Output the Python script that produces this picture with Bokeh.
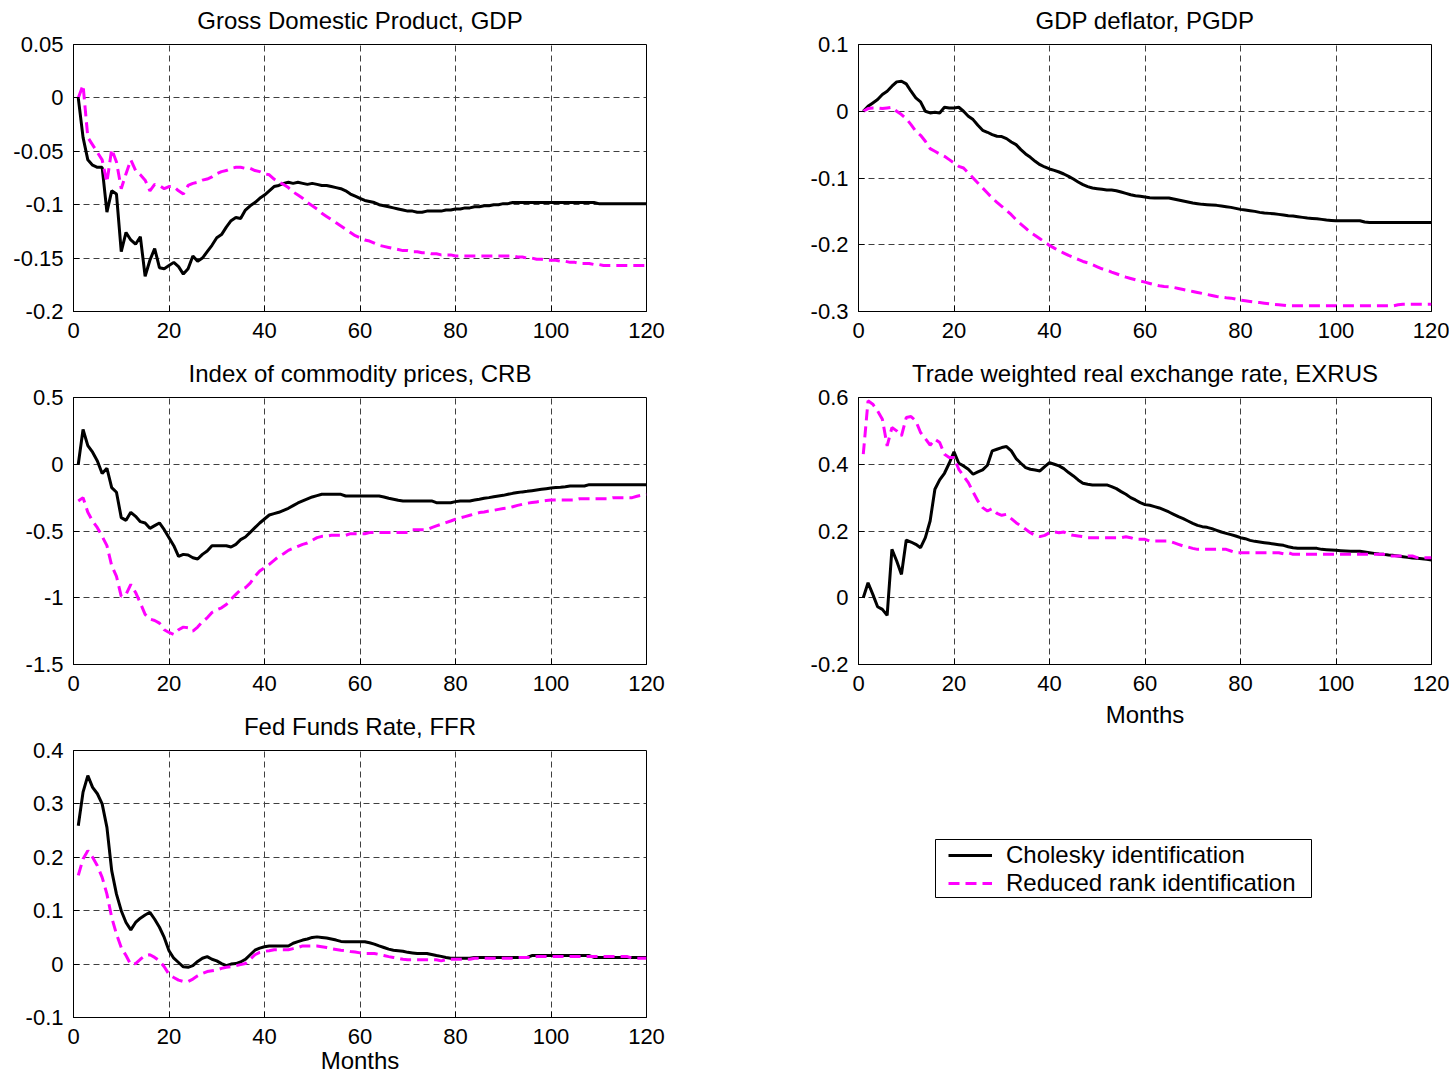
from bokeh.plotting import figure
from bokeh.models import Range1d, FixedTicker, Legend, LegendItem, BoxAnnotation, Title
from bokeh.layouts import row, column
from bokeh.embed import file_html
from bokeh.resources import INLINE

FONT = "Liberation Sans"
BLACK = "#000000"
MAGENTA = "#ff00ff"

# ---------------- data ----------------
months = list(range(1, 121))
x_ticks = [0, 20, 40, 60, 80, 100, 120]
x_tick_labels = ["0", "20", "40", "60", "80", "100", "120"]

titles = ["Gross Domestic Product, GDP", "GDP deflator, PGDP",
          "Index of commodity prices, CRB", "Trade weighted real exchange rate, EXRUS",
          "Fed Funds Rate, FFR"]
series_names = ["Cholesky identification", "Reduced rank identification"]
x_label = "Months"

gdp_ticks = [-0.2, -0.15, -0.1, -0.05, 0, 0.05]
gdp_tick_labels = ["-0.2", "-0.15", "-0.1", "-0.05", "0", "0.05"]
pgdp_ticks = [-0.3, -0.2, -0.1, 0, 0.1]
pgdp_tick_labels = ["-0.3", "-0.2", "-0.1", "0", "0.1"]
crb_ticks = [-1.5, -1, -0.5, 0, 0.5]
crb_tick_labels = ["-1.5", "-1", "-0.5", "0", "0.5"]
exrus_ticks = [-0.2, 0, 0.2, 0.4, 0.6]
exrus_tick_labels = ["-0.2", "0", "0.2", "0.4", "0.6"]
ffr_ticks = [-0.1, 0, 0.1, 0.2, 0.3, 0.4]
ffr_tick_labels = ["-0.1", "0", "0.1", "0.2", "0.3", "0.4"]

gdp_chol = [0.000, -0.037, -0.058, -0.063, -0.065, -0.065, -0.107, -0.087, -0.090, -0.144,
            -0.126, -0.133, -0.137, -0.130, -0.167, -0.152, -0.141, -0.159, -0.160, -0.157,
            -0.154, -0.158, -0.165, -0.160, -0.148, -0.153, -0.150, -0.144, -0.138, -0.131,
            -0.128, -0.121, -0.115, -0.112, -0.113, -0.105, -0.101, -0.098, -0.094, -0.091,
            -0.087, -0.083, -0.082, -0.080, -0.079, -0.080, -0.079, -0.080, -0.081, -0.080,
            -0.081, -0.082, -0.082, -0.083, -0.084, -0.085, -0.087, -0.090, -0.092, -0.094,
            -0.096, -0.097, -0.098, -0.100, -0.101, -0.102, -0.103, -0.104, -0.105, -0.106,
            -0.106, -0.107, -0.107, -0.106, -0.106, -0.106, -0.106, -0.105, -0.105, -0.104,
            -0.104, -0.103, -0.103, -0.102, -0.102, -0.101, -0.101, -0.100, -0.100, -0.099,
            -0.099, -0.098, -0.098, -0.098, -0.098, -0.098, -0.098, -0.098, -0.098, -0.098,
            -0.098, -0.098, -0.098, -0.098, -0.098, -0.098, -0.098, -0.098, -0.098, -0.099,
            -0.099, -0.099, -0.099, -0.099, -0.099, -0.099, -0.099, -0.099, -0.099, -0.099]
gdp_rr = [0.000, 0.012, -0.037, -0.044, -0.051, -0.058, -0.079, -0.048, -0.060, -0.085,
          -0.071, -0.058, -0.068, -0.072, -0.077, -0.087, -0.081, -0.082, -0.085, -0.083,
          -0.083, -0.087, -0.090, -0.082, -0.080, -0.079, -0.077, -0.076, -0.074, -0.071,
          -0.069, -0.068, -0.066, -0.065, -0.065, -0.066, -0.066, -0.068, -0.069, -0.071,
          -0.072, -0.076, -0.079, -0.081, -0.084, -0.088, -0.091, -0.094, -0.098, -0.101,
          -0.104, -0.108, -0.111, -0.114, -0.117, -0.120, -0.123, -0.126, -0.129, -0.131,
          -0.133, -0.134, -0.136, -0.138, -0.139, -0.140, -0.141, -0.142, -0.143, -0.143,
          -0.144, -0.144, -0.145, -0.145, -0.146, -0.146, -0.147, -0.147, -0.147, -0.148,
          -0.148, -0.148, -0.148, -0.148, -0.148, -0.148, -0.148, -0.148, -0.148, -0.148,
          -0.148, -0.148, -0.149, -0.149, -0.150, -0.150, -0.151, -0.151, -0.152, -0.152,
          -0.152, -0.153, -0.153, -0.154, -0.154, -0.155, -0.155, -0.155, -0.156, -0.156,
          -0.157, -0.157, -0.157, -0.157, -0.157, -0.157, -0.157, -0.157, -0.157, -0.157]

pgdp_chol = [0.000, 0.0075, 0.0125, 0.0175, 0.025, 0.030, 0.0375, 0.044, 0.045, 0.041,
             0.030, 0.020, 0.014, 0.000, -0.0025, -0.0015, -0.0025, 0.006, 0.005, 0.005,
             0.006, 0.000, -0.0075, -0.0125, -0.021, -0.0285, -0.0315, -0.035, -0.0375, -0.038,
             -0.041, -0.046, -0.050, -0.0575, -0.064, -0.069, -0.075, -0.080, -0.0835, -0.0865,
             -0.0885, -0.091, -0.094, -0.0975, -0.1015, -0.106, -0.110, -0.113, -0.115, -0.116,
             -0.117, -0.118, -0.118, -0.119, -0.121, -0.123, -0.125, -0.1265, -0.1275, -0.1285,
             -0.1295, -0.130, -0.130, -0.130, -0.130, -0.1315, -0.133, -0.1345, -0.136, -0.1375,
             -0.1385, -0.1395, -0.140, -0.1405, -0.141, -0.142, -0.143, -0.144, -0.1455, -0.147,
             -0.148, -0.149, -0.150, -0.1515, -0.1525, -0.153, -0.1535, -0.1545, -0.1555, -0.1565,
             -0.157, -0.158, -0.159, -0.160, -0.1605, -0.161, -0.162, -0.163, -0.1635, -0.164,
             -0.164, -0.164, -0.164, -0.164, -0.164, -0.166, -0.1665, -0.1665, -0.1665, -0.1665,
             -0.1665, -0.1665, -0.1665, -0.1665, -0.1665, -0.1665, -0.1665, -0.1665, -0.1665, -0.1665]
pgdp_rr = [0.000, 0.004, 0.005, 0.005, 0.004, 0.005, 0.006, 0.000, -0.005, -0.011,
           -0.020, -0.030, -0.036, -0.045, -0.056, -0.060, -0.064, -0.0675, -0.0725, -0.0775,
           -0.0825, -0.085, -0.0925, -0.100, -0.1075, -0.115, -0.1225, -0.130, -0.1365, -0.1425,
           -0.1485, -0.155, -0.1625, -0.169, -0.175, -0.1815, -0.186, -0.191, -0.196, -0.201,
           -0.205, -0.209, -0.2125, -0.216, -0.219, -0.222, -0.225, -0.227, -0.230, -0.233,
           -0.236, -0.238, -0.241, -0.2435, -0.246, -0.2485, -0.2505, -0.2525, -0.2545, -0.256,
           -0.258, -0.260, -0.2615, -0.2625, -0.263, -0.264, -0.2655, -0.267, -0.2685, -0.270,
           -0.2715, -0.273, -0.2745, -0.276, -0.2775, -0.2785, -0.2795, -0.280, -0.2815, -0.283,
           -0.284, -0.285, -0.286, -0.2865, -0.2875, -0.2885, -0.2895, -0.290, -0.2905, -0.2915,
           -0.2915, -0.2915, -0.2915, -0.2915, -0.2915, -0.2915, -0.2915, -0.2915, -0.2915, -0.2915,
           -0.2915, -0.2915, -0.2915, -0.2915, -0.2915, -0.2915, -0.2915, -0.2915, -0.2915, -0.2915,
           -0.2915, -0.2915, -0.290, -0.289, -0.289, -0.289, -0.289, -0.289, -0.289, -0.289]

crb_chol = [0.000, 0.260, 0.140, 0.090, 0.025, -0.070, -0.030, -0.175, -0.210, -0.400,
            -0.420, -0.360, -0.390, -0.430, -0.440, -0.480, -0.460, -0.440, -0.490, -0.550,
            -0.610, -0.690, -0.675, -0.680, -0.700, -0.710, -0.675, -0.650, -0.610, -0.610,
            -0.610, -0.610, -0.620, -0.600, -0.565, -0.545, -0.510, -0.475, -0.440, -0.410,
            -0.380, -0.370, -0.360, -0.345, -0.330, -0.310, -0.290, -0.275, -0.260, -0.245,
            -0.235, -0.225, -0.225, -0.225, -0.225, -0.225, -0.238, -0.238, -0.238, -0.238,
            -0.238, -0.238, -0.238, -0.238, -0.245, -0.255, -0.262, -0.270, -0.275, -0.275,
            -0.275, -0.275, -0.275, -0.275, -0.275, -0.288, -0.288, -0.288, -0.288, -0.280,
            -0.275, -0.275, -0.275, -0.268, -0.262, -0.255, -0.250, -0.243, -0.238, -0.233,
            -0.225, -0.218, -0.212, -0.207, -0.203, -0.198, -0.193, -0.188, -0.183, -0.178,
            -0.175, -0.172, -0.168, -0.163, -0.163, -0.163, -0.163, -0.153, -0.153, -0.153,
            -0.153, -0.153, -0.153, -0.153, -0.153, -0.153, -0.153, -0.153, -0.153, -0.153]
crb_rr = [-0.275, -0.250, -0.360, -0.425, -0.475, -0.540, -0.610, -0.760, -0.840, -0.990,
          -0.975, -0.900, -0.960, -1.040, -1.125, -1.160, -1.170, -1.190, -1.240, -1.260,
          -1.275, -1.240, -1.220, -1.225, -1.250, -1.220, -1.180, -1.150, -1.110, -1.090,
          -1.075, -1.050, -1.010, -0.975, -0.940, -0.925, -0.890, -0.840, -0.800, -0.775,
          -0.750, -0.720, -0.690, -0.670, -0.645, -0.630, -0.615, -0.600, -0.590, -0.570,
          -0.550, -0.540, -0.538, -0.532, -0.532, -0.532, -0.532, -0.520, -0.520, -0.520,
          -0.520, -0.512, -0.512, -0.512, -0.512, -0.512, -0.512, -0.512, -0.512, -0.512,
          -0.490, -0.490, -0.490, -0.490, -0.475, -0.462, -0.450, -0.437, -0.425, -0.412,
          -0.402, -0.392, -0.382, -0.372, -0.362, -0.357, -0.350, -0.345, -0.338, -0.332,
          -0.328, -0.318, -0.308, -0.300, -0.292, -0.287, -0.282, -0.277, -0.272, -0.268,
          -0.268, -0.268, -0.268, -0.268, -0.268, -0.258, -0.258, -0.258, -0.258, -0.258,
          -0.258, -0.258, -0.250, -0.250, -0.250, -0.250, -0.250, -0.240, -0.232, -0.225]

exrus_chol = [0.000, 0.045, 0.010, -0.027, -0.035, -0.053, 0.145, 0.110, 0.070, 0.173,
              0.167, 0.160, 0.150, 0.180, 0.230, 0.325, 0.353, 0.373, 0.403, 0.437,
              0.403, 0.395, 0.385, 0.370, 0.377, 0.383, 0.397, 0.440, 0.445, 0.450,
              0.453, 0.440, 0.417, 0.403, 0.390, 0.385, 0.383, 0.380, 0.393, 0.405,
              0.400, 0.395, 0.387, 0.375, 0.365, 0.353, 0.343, 0.340, 0.338, 0.338,
              0.338, 0.338, 0.333, 0.327, 0.318, 0.310, 0.300, 0.293, 0.285, 0.279,
              0.277, 0.273, 0.269, 0.263, 0.257, 0.250, 0.243, 0.237, 0.230, 0.223,
              0.217, 0.213, 0.211, 0.207, 0.202, 0.197, 0.193, 0.189, 0.185, 0.180,
              0.177, 0.172, 0.169, 0.167, 0.165, 0.163, 0.161, 0.159, 0.157, 0.153,
              0.150, 0.148, 0.148, 0.148, 0.148, 0.148, 0.145, 0.144, 0.143, 0.142,
              0.141, 0.140, 0.139, 0.139, 0.139, 0.137, 0.135, 0.133, 0.131, 0.130,
              0.128, 0.127, 0.125, 0.123, 0.121, 0.119, 0.118, 0.117, 0.115, 0.113]
exrus_rr = [0.430, 0.590, 0.580, 0.560, 0.535, 0.455, 0.510, 0.500, 0.485, 0.540,
            0.543, 0.530, 0.495, 0.477, 0.457, 0.475, 0.465, 0.430, 0.420, 0.420,
            0.385, 0.365, 0.345, 0.317, 0.290, 0.270, 0.260, 0.267, 0.253, 0.247,
            0.250, 0.237, 0.225, 0.215, 0.205, 0.195, 0.187, 0.183, 0.187, 0.195,
            0.197, 0.195, 0.197, 0.190, 0.187, 0.185, 0.183, 0.180, 0.180, 0.180,
            0.180, 0.180, 0.180, 0.180, 0.180, 0.183, 0.180, 0.175, 0.175, 0.175,
            0.170, 0.170, 0.170, 0.170, 0.170, 0.165, 0.160, 0.155, 0.152, 0.148,
            0.145, 0.145, 0.145, 0.145, 0.145, 0.145, 0.145, 0.140, 0.135, 0.135,
            0.135, 0.135, 0.135, 0.135, 0.135, 0.135, 0.135, 0.135, 0.132, 0.135,
            0.130, 0.130, 0.130, 0.130, 0.130, 0.130, 0.130, 0.130, 0.130, 0.130,
            0.130, 0.130, 0.130, 0.130, 0.130, 0.130, 0.130, 0.130, 0.130, 0.130,
            0.125, 0.125, 0.125, 0.125, 0.125, 0.125, 0.120, 0.120, 0.120, 0.120]

ffr_chol = [0.259, 0.322, 0.353, 0.331, 0.319, 0.300, 0.256, 0.175, 0.131, 0.100,
            0.078, 0.064, 0.078, 0.086, 0.092, 0.097, 0.084, 0.069, 0.050, 0.025,
            0.011, 0.003, -0.005, -0.006, -0.003, 0.005, 0.011, 0.014, 0.009, 0.006,
            0.001, -0.003, 0.000, 0.001, 0.004, 0.009, 0.0175, 0.026, 0.030, 0.0325,
            0.034, 0.034, 0.034, 0.034, 0.034, 0.039, 0.042, 0.045, 0.047, 0.050,
            0.051, 0.050, 0.049, 0.047, 0.045, 0.0425, 0.042, 0.042, 0.042, 0.042,
            0.042, 0.040, 0.0375, 0.034, 0.031, 0.028, 0.026, 0.025, 0.024, 0.022,
            0.021, 0.020, 0.020, 0.020, 0.018, 0.016, 0.0145, 0.0125, 0.011, 0.011,
            0.011, 0.011, 0.011, 0.0125, 0.0125, 0.0125, 0.0125, 0.0125, 0.0125, 0.0125,
            0.0125, 0.0125, 0.0125, 0.0125, 0.0125, 0.016, 0.016, 0.016, 0.016, 0.016,
            0.016, 0.016, 0.016, 0.016, 0.016, 0.016, 0.016, 0.016, 0.0125, 0.0125,
            0.0125, 0.0125, 0.0125, 0.0125, 0.0125, 0.0125, 0.0125, 0.0125, 0.0125, 0.0125]
ffr_rr = [0.166, 0.197, 0.2125, 0.200, 0.184, 0.1625, 0.131, 0.0875, 0.056, 0.031,
          0.016, -0.001, 0.001, 0.009, 0.016, 0.0175, 0.0125, 0.006, -0.005, -0.019,
          -0.025, -0.030, -0.0325, -0.0325, -0.028, -0.022, -0.0175, -0.014, -0.0125, -0.011,
          -0.008, -0.006, -0.005, -0.003, -0.001, 0.001, 0.009, 0.0175, 0.022, 0.024,
          0.025, 0.027, 0.027, 0.027, 0.027, 0.029, 0.031, 0.034, 0.034, 0.034,
          0.034, 0.0325, 0.031, 0.029, 0.0275, 0.026, 0.025, 0.0235, 0.0225, 0.021,
          0.020, 0.020, 0.020, 0.018, 0.016, 0.014, 0.0125, 0.011, 0.009, 0.008,
          0.008, 0.008, 0.008, 0.008, 0.008, 0.008, 0.006, 0.008, 0.009, 0.009,
          0.009, 0.009, 0.009, 0.011, 0.011, 0.011, 0.011, 0.011, 0.011, 0.011,
          0.011, 0.011, 0.0125, 0.0125, 0.0125, 0.0125, 0.014, 0.014, 0.014, 0.014,
          0.014, 0.014, 0.014, 0.014, 0.014, 0.014, 0.014, 0.014, 0.014, 0.014,
          0.014, 0.014, 0.014, 0.014, 0.014, 0.014, 0.011, 0.011, 0.011, 0.011]

# ---------------- drawing ----------------
FRAME_W, FRAME_H = 573, 267


def panel(title, chol, rr, y_start, y_end, yt, ytl, left, top, bottom, right,
          with_xlabel=False, tick_standoff=11, xlabel_standoff=4):
    p = figure(frame_width=FRAME_W, frame_height=FRAME_H,
               x_range=Range1d(0, 120), y_range=Range1d(y_start, y_end),
               output_backend="svg", toolbar_location=None, title=None,
               min_border_left=left, min_border_right=right,
               min_border_top=top, min_border_bottom=bottom,
               background_fill_color="white", border_fill_color="white")
    # thin spacer between frame and title, then the title itself
    p.add_layout(Title(text=" ", text_font_size="1px", standoff=8), "above")
    p.add_layout(Title(text=title, align="center", standoff=0,
                       text_font=FONT, text_font_size="24px",
                       text_font_style="normal", text_color="black"), "above")

    p.xaxis.ticker = FixedTicker(ticks=x_ticks, minor_ticks=[])
    p.yaxis.ticker = FixedTicker(ticks=yt, minor_ticks=[])
    p.xaxis.major_label_overrides = dict(zip(x_ticks, x_tick_labels))
    p.yaxis.major_label_overrides = dict(zip(yt, ytl))
    for ax in (p.xaxis, p.yaxis):
        ax.major_tick_in = 6
        ax.major_tick_out = 0
        ax.major_tick_line_color = "black"
        ax.axis_line_color = "black"
        ax.axis_line_width = 1
        ax.major_label_text_font = FONT
        ax.major_label_text_font_size = "22px"
        ax.major_label_text_color = "black"
    p.xaxis.major_label_standoff = tick_standoff
    p.yaxis.major_label_standoff = 10
    if with_xlabel:
        p.xaxis.axis_label = x_label
        p.xaxis.axis_label_text_font = FONT
        p.xaxis.axis_label_text_font_size = "24px"
        p.xaxis.axis_label_text_font_style = "normal"
        p.xaxis.axis_label_text_color = "black"
        p.xaxis.axis_label_standoff = xlabel_standoff

    p.grid.grid_line_color = "#404040"
    p.grid.grid_line_dash = "6 4"
    p.grid.grid_line_width = 1
    p.outline_line_color = "black"
    p.outline_line_width = 1
    p.outline_line_alpha = 1

    p.line(months, chol, line_color=BLACK, line_width=3)
    p.line(months, rr, line_color=MAGENTA, line_width=3, line_dash="11 6")
    return p


f1 = panel(titles[0], gdp_chol, gdp_rr, -0.2, 0.05, gdp_ticks, gdp_tick_labels,
           73, 44, 38, 147)
f2 = panel(titles[1], pgdp_chol, pgdp_rr, -0.3, 0.1, pgdp_ticks, pgdp_tick_labels,
           65, 44, 38, 18)
f3 = panel(titles[2], crb_chol, crb_rr, -1.5, 0.5, crb_ticks, crb_tick_labels,
           73, 48, 38, 147)
f4 = panel(titles[3], exrus_chol, exrus_rr, -0.2, 0.6, exrus_ticks, exrus_tick_labels,
           65, 48, 80, 18, with_xlabel=True, xlabel_standoff=7)
f5 = panel(titles[4], ffr_chol, ffr_rr, -0.1, 0.4, ffr_ticks, ffr_tick_labels,
           73, 48, 60, 147, with_xlabel=True, tick_standoff=11, xlabel_standoff=0)

# legend holder (data units = pixels of its frame)
f6 = figure(frame_width=FRAME_W, frame_height=300, x_range=Range1d(0, FRAME_W), y_range=Range1d(0, 300),
            x_axis_location=None, y_axis_location=None, toolbar_location=None,
            output_backend="svg", min_border_left=65, min_border_right=18,
            min_border_top=0, min_border_bottom=0, outline_line_color=None,
            background_fill_color="white", border_fill_color="white")
f6.grid.visible = False
r1 = f6.line([-100, -90], [-100, -100], line_color=BLACK, line_width=3)
r2 = f6.line([-100, -90], [-100, -100], line_color=MAGENTA, line_width=3, line_dash="11 6")
f6.add_layout(BoxAnnotation(left=77, right=453, bottom=147, top=205,
                            fill_color="white", fill_alpha=1,
                            line_color="black", line_width=1, line_alpha=1))
legend = Legend(items=[LegendItem(label=series_names[0], renderers=[r1]),
                       LegendItem(label=series_names[1], renderers=[r2])],
                location=(90, 147))
legend.border_line_color = None
legend.background_fill_alpha = 0
legend.label_text_font = FONT
legend.label_text_font_size = "24px"
legend.label_text_color = "black"
legend.glyph_width = 44
legend.glyph_height = 20
legend.label_standoff = 14
legend.padding = 2
legend.spacing = 0
legend.margin = 0
f6.add_layout(legend)

layout = row(column(f1, f3, f5), column(f2, f4, f6))

open("out.html", "w").write(file_html(layout, INLINE))
